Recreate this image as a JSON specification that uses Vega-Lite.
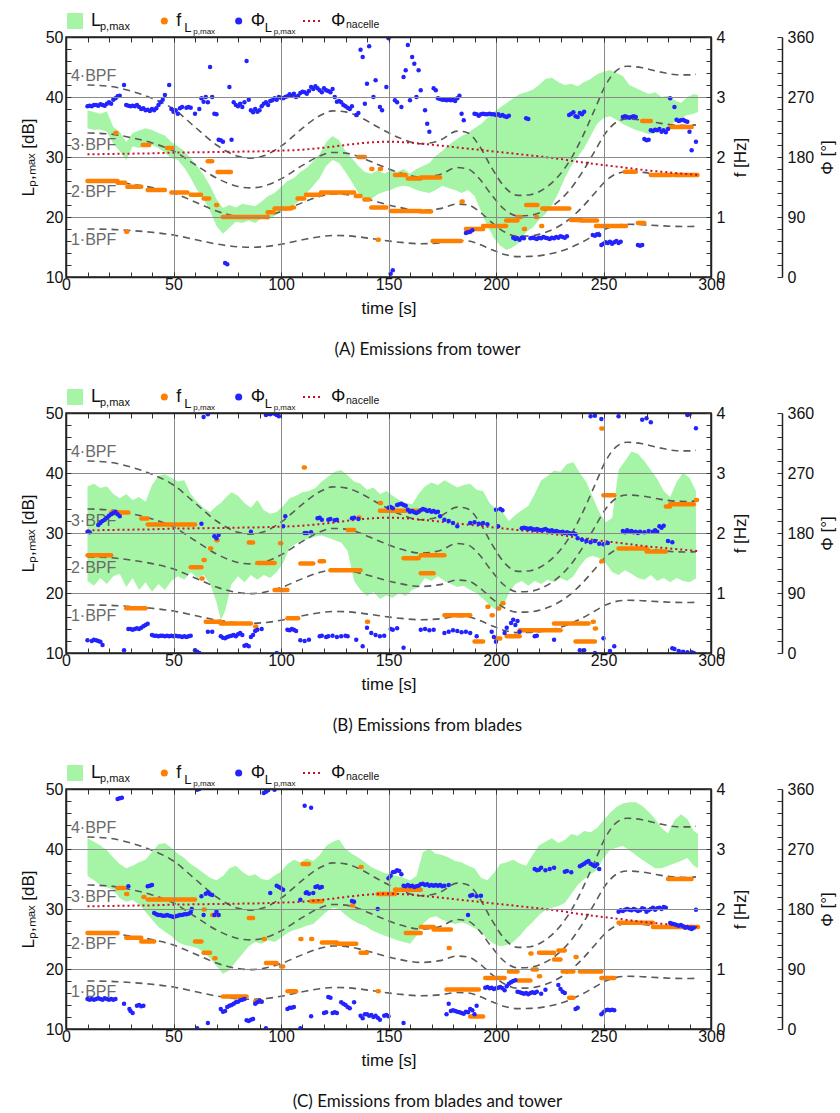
{
"$schema": "https://vega.github.io/schema/vega-lite/v6.json",
"padding": {"left": 18, "top": 11, "right": 5, "bottom": 5},
"config": {
  "font": "Liberation Sans",
  "view": {"stroke": "#222", "strokeWidth": 1.5},
  "axis": {"labelFontSize": 16, "labelColor": "#111", "titleColor": "#111", "titleFontWeight": "normal", "titleFontSize": 17, "tickColor": "#333", "domainColor": "#222", "domainWidth": 1.5, "labelFlush": false, "labelOverlap": false, "ticks": true, "tickSize": -5, "tickWidth": 1}
},
"datasets": {
  "leg": [{"key": "a"}, {"key": "b"}, {"key": "c"}, {"key": "d"}],
  "bpflab": [{"t": 2.3, "f": 0.62, "label": "1·BPF"}, {"t": 2.3, "f": 1.41, "label": "2·BPF"}, {"t": 2.3, "f": 2.2, "label": "3·BPF"}, {"t": 2.3, "f": 3.35, "label": "4·BPF"}],
  "bpf": [
    {"t":10,"b1":0.800,"b2":1.600,"b3":2.400,"b4":3.200},{"t":20,"b1":0.795,"b2":1.590,"b3":2.385,"b4":3.180},{"t":30,"b1":0.775,"b2":1.550,"b3":2.325,"b4":3.100},{"t":40,"b1":0.745,"b2":1.490,"b3":2.235,"b4":2.980},{"t":50,"b1":0.700,"b2":1.400,"b3":2.100,"b4":2.800},{"t":60,"b1":0.625,"b2":1.250,"b3":1.875,"b4":2.500},{"t":70,"b1":0.550,"b2":1.100,"b3":1.650,"b4":2.200},{"t":80,"b1":0.503,"b2":1.006,"b3":1.509,"b4":2.012},{"t":86,"b1":0.495,"b2":0.990,"b3":1.485,"b4":1.980},{"t":92,"b1":0.505,"b2":1.010,"b3":1.515,"b4":2.020},{"t":100,"b1":0.545,"b2":1.090,"b3":1.635,"b4":2.180},{"t":110,"b1":0.620,"b2":1.240,"b3":1.860,"b4":2.480},{"t":118,"b1":0.672,"b2":1.344,"b3":2.016,"b4":2.688},{"t":124,"b1":0.692,"b2":1.384,"b3":2.076,"b4":2.768},{"t":130,"b1":0.688,"b2":1.376,"b3":2.064,"b4":2.752},{"t":137,"b1":0.665,"b2":1.330,"b3":1.995,"b4":2.660},{"t":145,"b1":0.625,"b2":1.250,"b3":1.875,"b4":2.500},{"t":155,"b1":0.580,"b2":1.160,"b3":1.740,"b4":2.320},{"t":165,"b1":0.555,"b2":1.110,"b3":1.665,"b4":2.220},{"t":174,"b1":0.570,"b2":1.140,"b3":1.710,"b4":2.280},{"t":182,"b1":0.608,"b2":1.216,"b3":1.824,"b4":2.432},{"t":187,"b1":0.600,"b2":1.200,"b3":1.800,"b4":2.400},{"t":192,"b1":0.550,"b2":1.100,"b3":1.650,"b4":2.200},{"t":198,"b1":0.455,"b2":0.910,"b3":1.365,"b4":1.820},{"t":204,"b1":0.375,"b2":0.750,"b3":1.125,"b4":1.500},{"t":210,"b1":0.340,"b2":0.680,"b3":1.020,"b4":1.360},{"t":216,"b1":0.343,"b2":0.686,"b3":1.029,"b4":1.372},{"t":222,"b1":0.365,"b2":0.730,"b3":1.095,"b4":1.460},{"t":228,"b1":0.410,"b2":0.820,"b3":1.230,"b4":1.640},{"t":234,"b1":0.480,"b2":0.960,"b3":1.440,"b4":1.920},{"t":240,"b1":0.580,"b2":1.160,"b3":1.740,"b4":2.320},{"t":246,"b1":0.700,"b2":1.400,"b3":2.100,"b4":2.800},{"t":251,"b1":0.800,"b2":1.600,"b3":2.400,"b4":3.200},{"t":256,"b1":0.860,"b2":1.720,"b3":2.580,"b4":3.440},{"t":261,"b1":0.878,"b2":1.756,"b3":2.634,"b4":3.512},{"t":268,"b1":0.872,"b2":1.744,"b3":2.616,"b4":3.488},{"t":276,"b1":0.855,"b2":1.710,"b3":2.565,"b4":3.420},{"t":284,"b1":0.843,"b2":1.686,"b3":2.529,"b4":3.372},{"t":290,"b1":0.842,"b2":1.684,"b3":2.526,"b4":3.368},{"t":293,"b1":0.845,"b2":1.690,"b3":2.535,"b4":3.380}
  ],
  "nac": [{"t":10,"phi":184},{"t":20,"phi":184.5},{"t":30,"phi":185},{"t":40,"phi":185.5},{"t":50,"phi":186.5},{"t":60,"phi":187},{"t":70,"phi":187.5},{"t":80,"phi":188},{"t":90,"phi":188.5},{"t":100,"phi":189.5},{"t":110,"phi":191},{"t":120,"phi":194},{"t":130,"phi":198},{"t":140,"phi":201.5},{"t":150,"phi":203},{"t":160,"phi":201.5},{"t":170,"phi":198.5},{"t":180,"phi":195},{"t":190,"phi":191.5},{"t":200,"phi":188},{"t":210,"phi":184.5},{"t":220,"phi":181},{"t":230,"phi":177},{"t":240,"phi":172},{"t":250,"phi":168},{"t":260,"phi":164},{"t":270,"phi":160},{"t":280,"phi":157},{"t":294,"phi":153}],
  "bandA": [{"t":10,"lo":34.8,"hi":37.8},{"t":13,"lo":34.5,"hi":37.5},{"t":16,"lo":34.6,"hi":37.2},{"t":19,"lo":34.2,"hi":37.6},{"t":22,"lo":32.2,"hi":35.0},{"t":25,"lo":31.0,"hi":34.2},{"t":28,"lo":29.5,"hi":32.5},{"t":31,"lo":31.8,"hi":34.0},{"t":34,"lo":31.5,"hi":34.4},{"t":37,"lo":31.8,"hi":34.8},{"t":40,"lo":32.0,"hi":34.5},{"t":43,"lo":31.5,"hi":34.0},{"t":46,"lo":30.7,"hi":33.6},{"t":49,"lo":29.8,"hi":32.5},{"t":52,"lo":29.5,"hi":31.8},{"t":55,"lo":28.2,"hi":31.0},{"t":58,"lo":26.5,"hi":29.8},{"t":61,"lo":24.5,"hi":28.5},{"t":64,"lo":23.0,"hi":27.0},{"t":67,"lo":21.0,"hi":25.2},{"t":70,"lo":18.5,"hi":23.0},{"t":73,"lo":17.2,"hi":21.5},{"t":76,"lo":18.2,"hi":22.0},{"t":79,"lo":19.2,"hi":21.6},{"t":82,"lo":19.0,"hi":22.2},{"t":85,"lo":19.4,"hi":22.0},{"t":88,"lo":19.0,"hi":21.8},{"t":91,"lo":19.8,"hi":22.6},{"t":94,"lo":19.5,"hi":23.5},{"t":97,"lo":20.2,"hi":24.0},{"t":100,"lo":20.8,"hi":25.0},{"t":103,"lo":21.5,"hi":26.0},{"t":106,"lo":22.0,"hi":26.5},{"t":109,"lo":22.8,"hi":27.5},{"t":112,"lo":24.0,"hi":28.2},{"t":115,"lo":25.2,"hi":29.3},{"t":118,"lo":26.5,"hi":30.5},{"t":121,"lo":28.5,"hi":32.5},{"t":124,"lo":29.5,"hi":33.5},{"t":127,"lo":29.0,"hi":32.8},{"t":130,"lo":27.5,"hi":31.0},{"t":133,"lo":25.8,"hi":29.8},{"t":136,"lo":24.0,"hi":28.5},{"t":139,"lo":22.5,"hi":27.5},{"t":142,"lo":23.0,"hi":27.2},{"t":145,"lo":23.8,"hi":27.8},{"t":148,"lo":24.2,"hi":27.2},{"t":151,"lo":24.5,"hi":27.8},{"t":154,"lo":25.0,"hi":27.5},{"t":157,"lo":25.2,"hi":28.0},{"t":160,"lo":25.0,"hi":27.2},{"t":163,"lo":24.5,"hi":28.0},{"t":166,"lo":24.2,"hi":28.5},{"t":169,"lo":24.0,"hi":29.0},{"t":172,"lo":24.5,"hi":30.2},{"t":175,"lo":25.2,"hi":31.0},{"t":178,"lo":24.8,"hi":32.0},{"t":181,"lo":24.5,"hi":32.8},{"t":184,"lo":24.0,"hi":33.5},{"t":187,"lo":24.5,"hi":34.0},{"t":190,"lo":23.5,"hi":34.8},{"t":193,"lo":21.0,"hi":35.5},{"t":196,"lo":18.5,"hi":36.5},{"t":199,"lo":16.5,"hi":37.5},{"t":202,"lo":15.2,"hi":38.3},{"t":205,"lo":14.5,"hi":39.0},{"t":208,"lo":15.0,"hi":39.8},{"t":211,"lo":15.8,"hi":40.5},{"t":214,"lo":17.5,"hi":40.8},{"t":217,"lo":18.2,"hi":41.2},{"t":220,"lo":19.5,"hi":42.0},{"t":223,"lo":20.5,"hi":43.0},{"t":226,"lo":22.0,"hi":43.2},{"t":229,"lo":24.0,"hi":42.5},{"t":232,"lo":26.5,"hi":42.0},{"t":235,"lo":28.5,"hi":42.2},{"t":238,"lo":30.0,"hi":41.8},{"t":241,"lo":31.5,"hi":42.5},{"t":244,"lo":33.5,"hi":43.0},{"t":247,"lo":35.5,"hi":43.8},{"t":250,"lo":36.5,"hi":44.2},{"t":253,"lo":36.8,"hi":44.5},{"t":256,"lo":36.2,"hi":44.0},{"t":259,"lo":35.5,"hi":43.5},{"t":262,"lo":35.0,"hi":42.0},{"t":265,"lo":34.5,"hi":41.5},{"t":268,"lo":34.2,"hi":41.0},{"t":271,"lo":33.8,"hi":40.5},{"t":274,"lo":34.0,"hi":40.8},{"t":277,"lo":34.5,"hi":40.0},{"t":280,"lo":35.0,"hi":40.2},{"t":283,"lo":35.8,"hi":39.5},{"t":286,"lo":36.5,"hi":39.0},{"t":289,"lo":37.0,"hi":40.0},{"t":292,"lo":37.2,"hi":40.5},{"t":294,"lo":37.5,"hi":40.3}],
  "bandB": [{"t":10,"lo":22.0,"hi":37.8},{"t":13,"lo":21.2,"hi":38.2},{"t":16,"lo":22.5,"hi":37.5},{"t":19,"lo":21.5,"hi":37.8},{"t":22,"lo":22.8,"hi":36.5},{"t":25,"lo":23.2,"hi":35.8},{"t":28,"lo":21.0,"hi":36.5},{"t":31,"lo":22.5,"hi":35.5},{"t":34,"lo":20.5,"hi":36.0},{"t":37,"lo":21.8,"hi":35.2},{"t":40,"lo":20.2,"hi":38.0},{"t":43,"lo":21.5,"hi":39.5},{"t":46,"lo":20.5,"hi":39.8},{"t":49,"lo":22.0,"hi":39.2},{"t":52,"lo":22.8,"hi":38.6},{"t":55,"lo":22.2,"hi":38.8},{"t":58,"lo":23.5,"hi":36.5},{"t":61,"lo":22.5,"hi":35.2},{"t":64,"lo":23.0,"hi":34.2},{"t":67,"lo":21.5,"hi":33.5},{"t":70,"lo":18.5,"hi":34.5},{"t":72,"lo":15.5,"hi":35.0},{"t":74,"lo":17.0,"hi":35.8},{"t":77,"lo":21.5,"hi":36.8},{"t":80,"lo":22.8,"hi":36.2},{"t":83,"lo":21.8,"hi":35.0},{"t":86,"lo":23.0,"hi":34.2},{"t":89,"lo":22.2,"hi":35.5},{"t":92,"lo":23.0,"hi":33.8},{"t":95,"lo":22.5,"hi":33.2},{"t":98,"lo":23.5,"hi":33.5},{"t":101,"lo":25.0,"hi":34.5},{"t":104,"lo":27.5,"hi":35.8},{"t":107,"lo":28.2,"hi":36.2},{"t":110,"lo":28.8,"hi":36.8},{"t":113,"lo":29.0,"hi":37.0},{"t":116,"lo":29.4,"hi":37.5},{"t":119,"lo":29.6,"hi":38.6},{"t":122,"lo":29.2,"hi":39.4},{"t":125,"lo":28.8,"hi":40.2},{"t":128,"lo":28.4,"hi":40.5},{"t":131,"lo":27.0,"hi":39.6},{"t":134,"lo":22.0,"hi":38.6},{"t":137,"lo":20.5,"hi":38.2},{"t":140,"lo":19.5,"hi":37.2},{"t":143,"lo":20.2,"hi":37.6},{"t":146,"lo":19.0,"hi":36.5},{"t":149,"lo":19.6,"hi":37.0},{"t":152,"lo":19.2,"hi":36.2},{"t":155,"lo":20.0,"hi":35.5},{"t":158,"lo":19.5,"hi":35.0},{"t":161,"lo":20.5,"hi":34.8},{"t":164,"lo":21.0,"hi":36.5},{"t":167,"lo":22.5,"hi":37.8},{"t":170,"lo":22.0,"hi":38.4},{"t":173,"lo":22.8,"hi":38.0},{"t":176,"lo":22.0,"hi":38.8},{"t":179,"lo":21.5,"hi":38.2},{"t":182,"lo":21.0,"hi":37.6},{"t":185,"lo":21.2,"hi":38.0},{"t":188,"lo":20.5,"hi":38.2},{"t":191,"lo":20.0,"hi":37.2},{"t":194,"lo":19.0,"hi":37.0},{"t":197,"lo":18.0,"hi":35.0},{"t":200,"lo":17.2,"hi":34.0},{"t":203,"lo":17.5,"hi":33.5},{"t":206,"lo":20.0,"hi":32.0},{"t":209,"lo":21.5,"hi":33.0},{"t":212,"lo":22.0,"hi":33.8},{"t":215,"lo":21.2,"hi":34.5},{"t":218,"lo":22.0,"hi":36.5},{"t":221,"lo":21.5,"hi":38.8},{"t":224,"lo":22.2,"hi":39.5},{"t":227,"lo":21.8,"hi":40.4},{"t":230,"lo":22.5,"hi":40.2},{"t":233,"lo":22.0,"hi":41.5},{"t":236,"lo":22.8,"hi":41.8},{"t":239,"lo":24.5,"hi":40.0},{"t":242,"lo":25.8,"hi":38.5},{"t":245,"lo":26.2,"hi":36.0},{"t":248,"lo":25.8,"hi":33.5},{"t":251,"lo":25.0,"hi":31.8},{"t":254,"lo":23.5,"hi":32.5},{"t":257,"lo":23.0,"hi":40.5},{"t":260,"lo":23.8,"hi":42.0},{"t":263,"lo":23.2,"hi":43.6},{"t":266,"lo":22.5,"hi":43.2},{"t":269,"lo":22.2,"hi":42.0},{"t":272,"lo":23.0,"hi":40.5},{"t":275,"lo":22.0,"hi":39.0},{"t":278,"lo":22.5,"hi":37.0},{"t":281,"lo":21.8,"hi":36.0},{"t":284,"lo":22.5,"hi":38.5},{"t":287,"lo":22.0,"hi":40.0},{"t":290,"lo":21.8,"hi":39.2},{"t":293,"lo":22.4,"hi":37.0}],
  "bandC": [{"t":10,"lo":35.5,"hi":41.8},{"t":13,"lo":34.8,"hi":41.2},{"t":16,"lo":34.0,"hi":40.6},{"t":19,"lo":33.6,"hi":39.8},{"t":22,"lo":33.2,"hi":38.6},{"t":25,"lo":31.8,"hi":37.5},{"t":28,"lo":31.2,"hi":36.8},{"t":31,"lo":31.5,"hi":37.2},{"t":34,"lo":30.8,"hi":37.8},{"t":37,"lo":29.5,"hi":38.2},{"t":40,"lo":28.2,"hi":39.5},{"t":43,"lo":27.0,"hi":40.8},{"t":46,"lo":26.2,"hi":41.0},{"t":49,"lo":25.5,"hi":40.2},{"t":52,"lo":24.5,"hi":39.2},{"t":55,"lo":24.0,"hi":38.5},{"t":58,"lo":23.8,"hi":37.5},{"t":61,"lo":23.5,"hi":36.8},{"t":64,"lo":22.8,"hi":36.0},{"t":67,"lo":21.8,"hi":35.2},{"t":70,"lo":20.5,"hi":34.8},{"t":73,"lo":19.2,"hi":35.5},{"t":76,"lo":19.8,"hi":36.8},{"t":79,"lo":21.2,"hi":37.2},{"t":82,"lo":22.5,"hi":36.2},{"t":85,"lo":23.8,"hi":35.5},{"t":88,"lo":24.5,"hi":35.8},{"t":91,"lo":24.2,"hi":35.0},{"t":94,"lo":24.8,"hi":34.8},{"t":97,"lo":24.5,"hi":35.6},{"t":100,"lo":25.2,"hi":36.2},{"t":103,"lo":26.0,"hi":37.5},{"t":106,"lo":26.5,"hi":38.2},{"t":109,"lo":26.8,"hi":37.8},{"t":112,"lo":27.2,"hi":38.4},{"t":115,"lo":27.5,"hi":38.0},{"t":118,"lo":28.5,"hi":39.0},{"t":121,"lo":29.5,"hi":40.5},{"t":124,"lo":30.2,"hi":41.2},{"t":127,"lo":30.0,"hi":41.6},{"t":130,"lo":29.0,"hi":40.0},{"t":133,"lo":28.2,"hi":39.2},{"t":136,"lo":27.6,"hi":38.6},{"t":139,"lo":27.2,"hi":37.8},{"t":142,"lo":26.5,"hi":37.0},{"t":145,"lo":26.0,"hi":36.5},{"t":148,"lo":25.6,"hi":36.0},{"t":151,"lo":25.2,"hi":35.8},{"t":154,"lo":24.8,"hi":35.5},{"t":157,"lo":24.5,"hi":35.2},{"t":160,"lo":24.2,"hi":34.8},{"t":163,"lo":25.5,"hi":35.5},{"t":166,"lo":27.5,"hi":39.5},{"t":169,"lo":28.5,"hi":40.0},{"t":172,"lo":28.8,"hi":39.2},{"t":175,"lo":28.2,"hi":39.0},{"t":178,"lo":27.8,"hi":38.6},{"t":181,"lo":27.5,"hi":38.0},{"t":184,"lo":27.8,"hi":37.8},{"t":187,"lo":27.4,"hi":37.2},{"t":190,"lo":26.8,"hi":36.8},{"t":193,"lo":26.2,"hi":35.2},{"t":196,"lo":25.0,"hi":34.8},{"t":199,"lo":24.2,"hi":36.0},{"t":202,"lo":23.8,"hi":37.5},{"t":205,"lo":24.0,"hi":37.8},{"t":208,"lo":24.5,"hi":38.2},{"t":211,"lo":25.5,"hi":37.6},{"t":214,"lo":26.8,"hi":37.2},{"t":217,"lo":27.8,"hi":39.0},{"t":220,"lo":29.0,"hi":40.6},{"t":223,"lo":29.8,"hi":41.2},{"t":226,"lo":30.2,"hi":41.8},{"t":229,"lo":30.5,"hi":41.0},{"t":232,"lo":31.0,"hi":41.5},{"t":235,"lo":32.5,"hi":42.5},{"t":238,"lo":34.0,"hi":42.2},{"t":241,"lo":35.0,"hi":43.0},{"t":244,"lo":35.8,"hi":42.8},{"t":247,"lo":36.5,"hi":43.5},{"t":250,"lo":38.5,"hi":44.8},{"t":253,"lo":39.8,"hi":46.0},{"t":256,"lo":40.2,"hi":47.0},{"t":259,"lo":40.5,"hi":47.6},{"t":262,"lo":39.8,"hi":47.8},{"t":265,"lo":39.0,"hi":47.8},{"t":268,"lo":38.2,"hi":47.2},{"t":271,"lo":37.5,"hi":46.2},{"t":274,"lo":36.8,"hi":45.0},{"t":277,"lo":36.8,"hi":43.5},{"t":280,"lo":37.2,"hi":42.6},{"t":283,"lo":37.6,"hi":44.8},{"t":286,"lo":38.0,"hi":45.8},{"t":289,"lo":38.5,"hi":45.0},{"t":292,"lo":37.2,"hi":43.0},{"t":294,"lo":36.8,"hi":42.5}],
  "orA": [{"t0":10,"t1":24,"f":1.60},{"t0":24,"t1":27.5,"f":1.57},{"t0":28.5,"t1":35,"f":1.505},{"t0":38,"t1":46,"f":1.45},{"t0":49,"t1":56.5,"f":1.41},{"t0":58,"t1":62.8,"f":1.37},{"t0":64,"t1":66.6,"f":1.31},{"t0":69.8,"t1":70.3,"f":1.2},{"t0":73,"t1":93.8,"f":1.0},{"t0":93.8,"t1":96.5,"f":1.08},{"t0":97,"t1":104.6,"f":1.14},{"t0":105,"t1":106,"f":1.16},{"t0":107.7,"t1":110.8,"f":1.31},{"t0":111.6,"t1":118.6,"f":1.37},{"t0":118.6,"t1":134,"f":1.41},{"t0":134.8,"t1":137,"f":1.35},{"t0":138.8,"t1":141,"f":1.29},{"t0":142,"t1":149,"f":1.16},{"t0":151,"t1":165,"f":1.1},{"t0":65.9,"t1":68,"f":1.93},{"t0":70.5,"t1":76.7,"f":1.75},{"t0":136,"t1":139,"f":2.0},{"t0":142,"t1":142.5,"f":1.8},{"t0":146,"t1":146.5,"f":1.8},{"t0":153,"t1":158,"f":1.7},{"t0":159,"t1":165,"f":1.64},{"t0":165,"t1":174,"f":1.66},{"t0":23,"t1":23.5,"f":2.4},{"t0":35.7,"t1":38.7,"f":2.2},{"t0":47,"t1":49.6,"f":2.15},{"t0":28,"t1":28.5,"f":0.755},{"t0":145,"t1":145.5,"f":0.62},{"t0":165,"t1":169.8,"f":1.09},{"t0":170.5,"t1":183.7,"f":0.6},{"t0":184,"t1":184.5,"f":1.26},{"t0":186,"t1":194,"f":0.8},{"t0":194,"t1":204.7,"f":0.85},{"t0":204.7,"t1":210,"f":0.94},{"t0":210,"t1":211.6,"f":1.0},{"t0":213,"t1":213.5,"f":0.8},{"t0":214,"t1":219.3,"f":1.2},{"t0":218.6,"t1":219.1,"f":1.0},{"t0":221,"t1":221.5,"f":0.85},{"t0":221.5,"t1":234.1,"f":1.14},{"t0":234.9,"t1":239.5,"f":0.95},{"t0":239.5,"t1":247,"f":0.94},{"t0":246.5,"t1":260.5,"f":0.85},{"t0":266,"t1":269,"f":0.9},{"t0":259.9,"t1":265,"f":1.755},{"t0":272,"t1":281.4,"f":1.7},{"t0":283,"t1":293.7,"f":1.7},{"t0":268,"t1":272,"f":2.6},{"t0":281,"t1":291,"f":2.5}],
  "orB": [{"t0":10,"t1":21,"f":1.63},{"t0":21,"t1":29,"f":2.34},{"t0":35,"t1":38,"f":2.24},{"t0":38,"t1":60,"f":2.14},{"t0":58,"t1":63,"f":1.43},{"t0":64,"t1":64.5,"f":1.55},{"t0":67,"t1":67.5,"f":1.74},{"t0":70,"t1":70.5,"f":1.88},{"t0":85,"t1":87,"f":1.84},{"t0":89,"t1":97,"f":1.5},{"t0":99.6,"t1":100.1,"f":1.83},{"t0":110.6,"t1":111.1,"f":3.09},{"t0":109,"t1":115,"f":1.49},{"t0":118,"t1":120,"f":1.53},{"t0":123,"t1":137,"f":1.38},{"t0":131,"t1":134,"f":2.05},{"t0":136,"t1":136.5,"f":2.26},{"t0":146,"t1":164,"f":2.37},{"t0":146,"t1":146.5,"f":2.5},{"t0":157,"t1":164,"f":1.58},{"t0":28,"t1":37,"f":0.745},{"t0":63,"t1":63.5,"f":1.24},{"t0":65,"t1":72,"f":0.52},{"t0":72,"t1":86,"f":0.49},{"t0":88,"t1":88.5,"f":0.44},{"t0":97,"t1":103,"f":1.05},{"t0":103,"t1":108,"f":0.58},{"t0":140,"t1":140.5,"f":0.52},{"t0":165,"t1":176,"f":1.63},{"t0":165,"t1":171,"f":1.33},{"t0":176,"t1":188,"f":0.63},{"t0":190,"t1":194,"f":0.19},{"t0":196,"t1":196.5,"f":0.77},{"t0":198,"t1":198.5,"f":0.63},{"t0":200,"t1":202,"f":0.24},{"t0":201,"t1":201.5,"f":0.74},{"t0":203,"t1":203.5,"f":0.83},{"t0":205,"t1":211,"f":0.28},{"t0":211,"t1":230,"f":0.38},{"t0":227,"t1":243,"f":0.49},{"t0":237,"t1":246,"f":0.19},{"t0":245,"t1":245.5,"f":0.52},{"t0":246,"t1":246.5,"f":0.41},{"t0":249,"t1":249.5,"f":1.53},{"t0":249,"t1":249.5,"f":3.74},{"t0":250,"t1":255,"f":2.63},{"t0":257,"t1":270,"f":1.74},{"t0":270,"t1":279,"f":1.69},{"t0":279,"t1":281,"f":2.44},{"t0":281,"t1":292,"f":2.48},{"t0":293,"t1":293.5,"f":2.55}],
  "orC": [{"t0":10,"t1":24,"f":1.6},{"t0":24,"t1":27,"f":2.35},{"t0":28,"t1":28.5,"f":2.25},{"t0":36,"t1":36.5,"f":2.2},{"t0":38,"t1":60,"f":2.16},{"t0":28,"t1":35,"f":1.52},{"t0":35,"t1":41,"f":1.46},{"t0":60,"t1":63,"f":1.46},{"t0":64,"t1":64.5,"f":1.99},{"t0":68,"t1":71,"f":1.9},{"t0":85,"t1":87,"f":1.85},{"t0":92,"t1":92.5,"f":1.5},{"t0":109,"t1":109.5,"f":1.5},{"t0":114,"t1":114.5,"f":1.5},{"t0":110,"t1":113,"f":2.75},{"t0":114,"t1":119,"f":2.13},{"t0":119,"t1":126,"f":1.44},{"t0":126,"t1":135,"f":1.42},{"t0":133,"t1":133.5,"f":2.06},{"t0":137,"t1":137.5,"f":2.7},{"t0":145,"t1":153,"f":2.25},{"t0":153,"t1":165,"f":2.32},{"t0":158,"t1":165,"f":1.6},{"t0":64,"t1":67,"f":1.27},{"t0":69,"t1":69.5,"f":1.18},{"t0":73,"t1":84,"f":0.54},{"t0":88,"t1":91,"f":0.46},{"t0":93,"t1":98,"f":1.1},{"t0":100,"t1":101,"f":1.04},{"t0":103,"t1":107,"f":0.63},{"t0":145,"t1":145.5,"f":0.63},{"t0":137,"t1":140,"f":1.27},{"t0":165,"t1":171,"f":1.7},{"t0":171,"t1":179,"f":1.66},{"t0":178,"t1":178.5,"f":1.35},{"t0":280,"t1":291,"f":2.5},{"t0":257,"t1":273,"f":1.77},{"t0":273,"t1":294,"f":1.7},{"t0":177,"t1":192,"f":0.66},{"t0":188,"t1":194,"f":0.21},{"t0":195,"t1":204,"f":0.85},{"t0":206,"t1":210,"f":0.96},{"t0":210,"t1":216,"f":0.81},{"t0":217,"t1":219,"f":0.99},{"t0":216,"t1":216.5,"f":1.26},{"t0":220,"t1":220.5,"f":0.88},{"t0":220,"t1":227,"f":1.27},{"t0":227,"t1":230,"f":1.16},{"t0":229,"t1":232,"f":1.31},{"t0":231,"t1":236,"f":0.96},{"t0":234,"t1":236,"f":0.52},{"t0":237,"t1":237.5,"f":1.2},{"t0":239,"t1":249,"f":0.96},{"t0":249,"t1":255,"f":0.85}],
  "blA": [{"t":10,"phi":256},{"t":11,"phi":257},{"t":12,"phi":256},{"t":13,"phi":258},{"t":14,"phi":258},{"t":15,"phi":257},{"t":16,"phi":259},{"t":17,"phi":258},{"t":18,"phi":257},{"t":19,"phi":260},{"t":20,"phi":262},{"t":21,"phi":260},{"t":22,"phi":266},{"t":23,"phi":268},{"t":24,"phi":271},{"t":25,"phi":272},{"t":27,"phi":288},{"t":28,"phi":258},{"t":29,"phi":257},{"t":30,"phi":256},{"t":31,"phi":257},{"t":32,"phi":256},{"t":33,"phi":258},{"t":34,"phi":255},{"t":35,"phi":252},{"t":36,"phi":253},{"t":37,"phi":250},{"t":38,"phi":251},{"t":39,"phi":249},{"t":40,"phi":252},{"t":41,"phi":250},{"t":42,"phi":253},{"t":43,"phi":258},{"t":44,"phi":262},{"t":45,"phi":266},{"t":46,"phi":273},{"t":48,"phi":288},{"t":49,"phi":252},{"t":50,"phi":248},{"t":51,"phi":250},{"t":52,"phi":245},{"t":53,"phi":253},{"t":54,"phi":255},{"t":56,"phi":254},{"t":57,"phi":255},{"t":58,"phi":254},{"t":60,"phi":245},{"t":62,"phi":252},{"t":63,"phi":268},{"t":64,"phi":263},{"t":65,"phi":270},{"t":66,"phi":262},{"t":67,"phi":315},{"t":68,"phi":270},{"t":69,"phi":245},{"t":70,"phi":244},{"t":71,"phi":206},{"t":72,"phi":205},{"t":73,"phi":203},{"t":74,"phi":21},{"t":75,"phi":19},{"t":76,"phi":285},{"t":77,"phi":206},{"t":78,"phi":262},{"t":79,"phi":258},{"t":80,"phi":256},{"t":81,"phi":260},{"t":82,"phi":255},{"t":83,"phi":262},{"t":84,"phi":324},{"t":85,"phi":266},{"t":86,"phi":250},{"t":87,"phi":247},{"t":88,"phi":252},{"t":89,"phi":248},{"t":90,"phi":250},{"t":91,"phi":256},{"t":92,"phi":260},{"t":93,"phi":262},{"t":94,"phi":258},{"t":95,"phi":264},{"t":96,"phi":265},{"t":97,"phi":268},{"t":98,"phi":266},{"t":99,"phi":270},{"t":100,"phi":269},{"t":101,"phi":268},{"t":102,"phi":270},{"t":103,"phi":271},{"t":104,"phi":274},{"t":105,"phi":272},{"t":106,"phi":275},{"t":107,"phi":270},{"t":108,"phi":272},{"t":109,"phi":276},{"t":110,"phi":278},{"t":111,"phi":277},{"t":112,"phi":275},{"t":113,"phi":279},{"t":114,"phi":285},{"t":115,"phi":282},{"t":116,"phi":286},{"t":117,"phi":283},{"t":118,"phi":280},{"t":119,"phi":277},{"t":120,"phi":283},{"t":121,"phi":280},{"t":122,"phi":279},{"t":123,"phi":277},{"t":124,"phi":282},{"t":125,"phi":270},{"t":126,"phi":263},{"t":127,"phi":264},{"t":128,"phi":262},{"t":129,"phi":258},{"t":130,"phi":256},{"t":131,"phi":254},{"t":132,"phi":252},{"t":133,"phi":256},{"t":135,"phi":243},{"t":136,"phi":246},{"t":137,"phi":341},{"t":138,"phi":330},{"t":139,"phi":260},{"t":140,"phi":290},{"t":141,"phi":346},{"t":143,"phi":270},{"t":144,"phi":295},{"t":146,"phi":255},{"t":147,"phi":250},{"t":149,"phi":285},{"t":150,"phi":358},{"t":151,"phi":5},{"t":152,"phi":10},{"t":153,"phi":265},{"t":154,"phi":262},{"t":156,"phi":255},{"t":157,"phi":300},{"t":158,"phi":310},{"t":159,"phi":348},{"t":160,"phi":265},{"t":161,"phi":330},{"t":162,"phi":320},{"t":163,"phi":270},{"t":164,"phi":310},{"t":165,"phi":280},{"t":167,"phi":250},{"t":168,"phi":230},{"t":169,"phi":218},{"t":171,"phi":283},{"t":172,"phi":280},{"t":173,"phi":268},{"t":174,"phi":267},{"t":175,"phi":266},{"t":176,"phi":266},{"t":177,"phi":265},{"t":178,"phi":266},{"t":179,"phi":265},{"t":180,"phi":266},{"t":181,"phi":264},{"t":182,"phi":268},{"t":183,"phi":272},{"t":184,"phi":245},{"t":185,"phi":235},{"t":186,"phi":66},{"t":187,"phi":67},{"t":188,"phi":68},{"t":189,"phi":70},{"t":190,"phi":245},{"t":191,"phi":244},{"t":192,"phi":242},{"t":193,"phi":244},{"t":194,"phi":245},{"t":195,"phi":244},{"t":196,"phi":244},{"t":197,"phi":245},{"t":198,"phi":244},{"t":199,"phi":244},{"t":200,"phi":243},{"t":201,"phi":244},{"t":202,"phi":242},{"t":203,"phi":243},{"t":204,"phi":241},{"t":205,"phi":240},{"t":206,"phi":242},{"t":208,"phi":59},{"t":209,"phi":57},{"t":210,"phi":58},{"t":211,"phi":56},{"t":212,"phi":59},{"t":213,"phi":58},{"t":214,"phi":238},{"t":215,"phi":237},{"t":216,"phi":58},{"t":217,"phi":59},{"t":218,"phi":58},{"t":219,"phi":57},{"t":220,"phi":59},{"t":221,"phi":58},{"t":222,"phi":60},{"t":223,"phi":59},{"t":224,"phi":58},{"t":225,"phi":57},{"t":226,"phi":59},{"t":227,"phi":58},{"t":228,"phi":60},{"t":229,"phi":59},{"t":230,"phi":61},{"t":231,"phi":60},{"t":232,"phi":59},{"t":233,"phi":61},{"t":234,"phi":243},{"t":235,"phi":245},{"t":236,"phi":247},{"t":237,"phi":241},{"t":238,"phi":240},{"t":239,"phi":246},{"t":240,"phi":244},{"t":241,"phi":248},{"t":245,"phi":63},{"t":246,"phi":62},{"t":247,"phi":64},{"t":248,"phi":63},{"t":249,"phi":48},{"t":250,"phi":50},{"t":251,"phi":52},{"t":252,"phi":51},{"t":253,"phi":53},{"t":254,"phi":50},{"t":255,"phi":52},{"t":256,"phi":54},{"t":257,"phi":51},{"t":258,"phi":53},{"t":259,"phi":240},{"t":260,"phi":241},{"t":261,"phi":240},{"t":262,"phi":239},{"t":263,"phi":240},{"t":264,"phi":241},{"t":265,"phi":240},{"t":266,"phi":48},{"t":267,"phi":47},{"t":268,"phi":48},{"t":269,"phi":207},{"t":270,"phi":205},{"t":271,"phi":206},{"t":272,"phi":220},{"t":273,"phi":219},{"t":274,"phi":221},{"t":275,"phi":220},{"t":276,"phi":222},{"t":277,"phi":218},{"t":278,"phi":220},{"t":279,"phi":217},{"t":280,"phi":222},{"t":281,"phi":268},{"t":283,"phi":255},{"t":284,"phi":236},{"t":285,"phi":234},{"t":286,"phi":235},{"t":287,"phi":236},{"t":288,"phi":234},{"t":289,"phi":233},{"t":290,"phi":218},{"t":291,"phi":190},{"t":293,"phi":203}],
  "blB": [{"t":10,"phi":182},{"t":11,"phi":181},{"t":15,"phi":192},{"t":16,"phi":195},{"t":17,"phi":198},{"t":18,"phi":200},{"t":19,"phi":203},{"t":20,"phi":206},{"t":21,"phi":208},{"t":22,"phi":210},{"t":23,"phi":212},{"t":24,"phi":208},{"t":25,"phi":205},{"t":63,"phi":194},{"t":64,"phi":354},{"t":66,"phi":358},{"t":69,"phi":175},{"t":70,"phi":172},{"t":71,"phi":177},{"t":86,"phi":182},{"t":93,"phi":357},{"t":94,"phi":359},{"t":95,"phi":358},{"t":96,"phi":360},{"t":97,"phi":359},{"t":98,"phi":357},{"t":99,"phi":355},{"t":101,"phi":190},{"t":102,"phi":205},{"t":111,"phi":180},{"t":112,"phi":180},{"t":114,"phi":181},{"t":117,"phi":202},{"t":118,"phi":203},{"t":119,"phi":200},{"t":122,"phi":200},{"t":123,"phi":201},{"t":125,"phi":199},{"t":126,"phi":200},{"t":133,"phi":202},{"t":134,"phi":203},{"t":136,"phi":201},{"t":150,"phi":218},{"t":151,"phi":219},{"t":152,"phi":217},{"t":154,"phi":222},{"t":155,"phi":223},{"t":156,"phi":224},{"t":157,"phi":222},{"t":158,"phi":221},{"t":159,"phi":215},{"t":160,"phi":212},{"t":161,"phi":213},{"t":162,"phi":211},{"t":163,"phi":210},{"t":164,"phi":212},{"t":165,"phi":214},{"t":166,"phi":216},{"t":167,"phi":215},{"t":168,"phi":213},{"t":169,"phi":214},{"t":170,"phi":212},{"t":171,"phi":213},{"t":172,"phi":211},{"t":173,"phi":212},{"t":174,"phi":205},{"t":176,"phi":200},{"t":178,"phi":198},{"t":180,"phi":195},{"t":182,"phi":190},{"t":188,"phi":195},{"t":190,"phi":196},{"t":192,"phi":194},{"t":194,"phi":195},{"t":196,"phi":193},{"t":200,"phi":215},{"t":201,"phi":190},{"t":202,"phi":216},{"t":203,"phi":214},{"t":212,"phi":187},{"t":213,"phi":188},{"t":214,"phi":187},{"t":215,"phi":186},{"t":216,"phi":187},{"t":217,"phi":186},{"t":218,"phi":185},{"t":219,"phi":186},{"t":220,"phi":185},{"t":221,"phi":184},{"t":222,"phi":185},{"t":223,"phi":186},{"t":224,"phi":184},{"t":225,"phi":183},{"t":226,"phi":184},{"t":227,"phi":182},{"t":228,"phi":183},{"t":229,"phi":182},{"t":230,"phi":181},{"t":231,"phi":182},{"t":232,"phi":180},{"t":233,"phi":181},{"t":234,"phi":180},{"t":235,"phi":179},{"t":236,"phi":180},{"t":237,"phi":178},{"t":238,"phi":172},{"t":240,"phi":170},{"t":242,"phi":168},{"t":244,"phi":166},{"t":246,"phi":168},{"t":248,"phi":164},{"t":250,"phi":163},{"t":252,"phi":165},{"t":244,"phi":355},{"t":246,"phi":356},{"t":249,"phi":351},{"t":257,"phi":355},{"t":259,"phi":183},{"t":260,"phi":181},{"t":261,"phi":184},{"t":262,"phi":182},{"t":263,"phi":183},{"t":264,"phi":181},{"t":265,"phi":182},{"t":266,"phi":180},{"t":267,"phi":182},{"t":268,"phi":350},{"t":270,"phi":352},{"t":272,"phi":346},{"t":269,"phi":181},{"t":271,"phi":183},{"t":273,"phi":182},{"t":274,"phi":184},{"t":275,"phi":182},{"t":276,"phi":190},{"t":277,"phi":188},{"t":278,"phi":191},{"t":280,"phi":168},{"t":282,"phi":166},{"t":289,"phi":357},{"t":290,"phi":358},{"t":293,"phi":337},{"t":10,"phi":19},{"t":12,"phi":18},{"t":13,"phi":20},{"t":14,"phi":19},{"t":15,"phi":18},{"t":16,"phi":17},{"t":17,"phi":12},{"t":27,"phi":4},{"t":29,"phi":36},{"t":30,"phi":36},{"t":31,"phi":35},{"t":32,"phi":36},{"t":33,"phi":37},{"t":34,"phi":36},{"t":35,"phi":38},{"t":36,"phi":40},{"t":37,"phi":42},{"t":38,"phi":44},{"t":40,"phi":27},{"t":41,"phi":26},{"t":42,"phi":26},{"t":43,"phi":25},{"t":44,"phi":26},{"t":45,"phi":26},{"t":46,"phi":25},{"t":47,"phi":26},{"t":48,"phi":25},{"t":49,"phi":26},{"t":50,"phi":25},{"t":51,"phi":26},{"t":52,"phi":25},{"t":53,"phi":25},{"t":54,"phi":24},{"t":55,"phi":25},{"t":56,"phi":24},{"t":57,"phi":25},{"t":58,"phi":26},{"t":60,"phi":4},{"t":61,"phi":2},{"t":62,"phi":0},{"t":66,"phi":32},{"t":68,"phi":32},{"t":72,"phi":25},{"t":73,"phi":23},{"t":74,"phi":22},{"t":75,"phi":24},{"t":76,"phi":25},{"t":77,"phi":26},{"t":78,"phi":27},{"t":79,"phi":25},{"t":80,"phi":28},{"t":81,"phi":30},{"t":82,"phi":27},{"t":83,"phi":11},{"t":84,"phi":12},{"t":85,"phi":10},{"t":86,"phi":24},{"t":87,"phi":27},{"t":88,"phi":33},{"t":89,"phi":35},{"t":91,"phi":36},{"t":98,"phi":0},{"t":103,"phi":35},{"t":104,"phi":34},{"t":105,"phi":36},{"t":106,"phi":35},{"t":107,"phi":33},{"t":109,"phi":19},{"t":111,"phi":18},{"t":113,"phi":20},{"t":118,"phi":25},{"t":119,"phi":26},{"t":121,"phi":24},{"t":122,"phi":25},{"t":124,"phi":26},{"t":126,"phi":24},{"t":128,"phi":25},{"t":130,"phi":26},{"t":131,"phi":25},{"t":135,"phi":20},{"t":138,"phi":10},{"t":140,"phi":38},{"t":142,"phi":30},{"t":144,"phi":27},{"t":146,"phi":25},{"t":148,"phi":26},{"t":151,"phi":36},{"t":152,"phi":35},{"t":154,"phi":37},{"t":157,"phi":8},{"t":165,"phi":35},{"t":167,"phi":36},{"t":169,"phi":34},{"t":171,"phi":35},{"t":176,"phi":30},{"t":178,"phi":32},{"t":180,"phi":34},{"t":182,"phi":33},{"t":184,"phi":31},{"t":186,"phi":32},{"t":188,"phi":30},{"t":191,"phi":25},{"t":198,"phi":32},{"t":199,"phi":24},{"t":200,"phi":17},{"t":204,"phi":30},{"t":205,"phi":38},{"t":207,"phi":45},{"t":208,"phi":50},{"t":209,"phi":42},{"t":210,"phi":48},{"t":211,"phi":32},{"t":218,"phi":25},{"t":219,"phi":26},{"t":227,"phi":20},{"t":239,"phi":4},{"t":241,"phi":4},{"t":246,"phi":0},{"t":250,"phi":22},{"t":253,"phi":3},{"t":255,"phi":10},{"t":282,"phi":7},{"t":283,"phi":6},{"t":285,"phi":3},{"t":287,"phi":2},{"t":289,"phi":1},{"t":291,"phi":1},{"t":292,"phi":0}],
  "blC": [{"t":24,"phi":345},{"t":25,"phi":346},{"t":26,"phi":347},{"t":29,"phi":214},{"t":38,"phi":214},{"t":39,"phi":215},{"t":40,"phi":216},{"t":41,"phi":174},{"t":42,"phi":172},{"t":43,"phi":171},{"t":44,"phi":171},{"t":45,"phi":170},{"t":46,"phi":170},{"t":47,"phi":171},{"t":48,"phi":170},{"t":49,"phi":169},{"t":50,"phi":168},{"t":51,"phi":169},{"t":52,"phi":170},{"t":53,"phi":171},{"t":54,"phi":171},{"t":55,"phi":172},{"t":56,"phi":172},{"t":57,"phi":173},{"t":58,"phi":175},{"t":58.5,"phi":180},{"t":61,"phi":359},{"t":62,"phi":360},{"t":63,"phi":199},{"t":64,"phi":171},{"t":65,"phi":203},{"t":66,"phi":205},{"t":67,"phi":202},{"t":68,"phi":201},{"t":69,"phi":171},{"t":70,"phi":176},{"t":71,"phi":171},{"t":92,"phi":354},{"t":93,"phi":356},{"t":94,"phi":358},{"t":95,"phi":204},{"t":97,"phi":359},{"t":98,"phi":215},{"t":99,"phi":213},{"t":100,"phi":211},{"t":101,"phi":209},{"t":109,"phi":194},{"t":111,"phi":335},{"t":114,"phi":332},{"t":111.5,"phi":204},{"t":112,"phi":205},{"t":113,"phi":203},{"t":115,"phi":204},{"t":116,"phi":213},{"t":117,"phi":214},{"t":118,"phi":212},{"t":119,"phi":213},{"t":133,"phi":192},{"t":134,"phi":191},{"t":145,"phi":180},{"t":150,"phi":226},{"t":151,"phi":230},{"t":152,"phi":235},{"t":153,"phi":236},{"t":154,"phi":238},{"t":155,"phi":237},{"t":156,"phi":232},{"t":157,"phi":215},{"t":158,"phi":214},{"t":159,"phi":216},{"t":160,"phi":214},{"t":161,"phi":215},{"t":162,"phi":213},{"t":163,"phi":214},{"t":164,"phi":215},{"t":165,"phi":217},{"t":166,"phi":218},{"t":167,"phi":216},{"t":168,"phi":217},{"t":169,"phi":215},{"t":170,"phi":216},{"t":171,"phi":215},{"t":172,"phi":216},{"t":173,"phi":215},{"t":174,"phi":216},{"t":175,"phi":214},{"t":176,"phi":215},{"t":178,"phi":216},{"t":187,"phi":171},{"t":188,"phi":200},{"t":189,"phi":201},{"t":191,"phi":199},{"t":193,"phi":200},{"t":218,"phi":240},{"t":219,"phi":238},{"t":220,"phi":239},{"t":221,"phi":242},{"t":223,"phi":238},{"t":225,"phi":240},{"t":227,"phi":242},{"t":232,"phi":236},{"t":233,"phi":237},{"t":235,"phi":235},{"t":239,"phi":244},{"t":240,"phi":246},{"t":241,"phi":248},{"t":242,"phi":250},{"t":243,"phi":252},{"t":244,"phi":248},{"t":245,"phi":246},{"t":246,"phi":244},{"t":247,"phi":247},{"t":248,"phi":240},{"t":257,"phi":176},{"t":258,"phi":178},{"t":259,"phi":177},{"t":260,"phi":179},{"t":261,"phi":180},{"t":262,"phi":179},{"t":263,"phi":178},{"t":264,"phi":180},{"t":265,"phi":179},{"t":266,"phi":177},{"t":267,"phi":178},{"t":268,"phi":181},{"t":269,"phi":180},{"t":270,"phi":176},{"t":271,"phi":178},{"t":272,"phi":180},{"t":273,"phi":182},{"t":274,"phi":179},{"t":275,"phi":181},{"t":276,"phi":182},{"t":277,"phi":180},{"t":278,"phi":183},{"t":279,"phi":182},{"t":281,"phi":159},{"t":282,"phi":158},{"t":283,"phi":157},{"t":284,"phi":156},{"t":285,"phi":155},{"t":286,"phi":156},{"t":287,"phi":154},{"t":288,"phi":152},{"t":289,"phi":153},{"t":290,"phi":151},{"t":291,"phi":150},{"t":292,"phi":152},{"t":293,"phi":179},{"t":10,"phi":45},{"t":11,"phi":44},{"t":12,"phi":45},{"t":13,"phi":44},{"t":14,"phi":45},{"t":15,"phi":46},{"t":16,"phi":45},{"t":17,"phi":44},{"t":18,"phi":46},{"t":19,"phi":45},{"t":20,"phi":44},{"t":21,"phi":45},{"t":22,"phi":44},{"t":23,"phi":45},{"t":27,"phi":38},{"t":29.5,"phi":30},{"t":30,"phi":27},{"t":31,"phi":24},{"t":33,"phi":35},{"t":34,"phi":36},{"t":35,"phi":34},{"t":36,"phi":35},{"t":61,"phi":1},{"t":66,"phi":9},{"t":72,"phi":30},{"t":73,"phi":26},{"t":74,"phi":27},{"t":75,"phi":33},{"t":76,"phi":35},{"t":77,"phi":36},{"t":78,"phi":38},{"t":79,"phi":40},{"t":80,"phi":41},{"t":81,"phi":43},{"t":82,"phi":44},{"t":83,"phi":45},{"t":84,"phi":13},{"t":85,"phi":12},{"t":86,"phi":14},{"t":87,"phi":15},{"t":88,"phi":38},{"t":89,"phi":40},{"t":90,"phi":42},{"t":91,"phi":41},{"t":93,"phi":1},{"t":103,"phi":30},{"t":104,"phi":32},{"t":105,"phi":32},{"t":106,"phi":33},{"t":109,"phi":1},{"t":114,"phi":19},{"t":120,"phi":24},{"t":121,"phi":25},{"t":122,"phi":48},{"t":123,"phi":47},{"t":124,"phi":24},{"t":125,"phi":25},{"t":126,"phi":24},{"t":128,"phi":40},{"t":129,"phi":38},{"t":130,"phi":36},{"t":131,"phi":33},{"t":132,"phi":31},{"t":134,"phi":40},{"t":137,"phi":20},{"t":138,"phi":16},{"t":139,"phi":22},{"t":140,"phi":22},{"t":141,"phi":20},{"t":142,"phi":21},{"t":143,"phi":18},{"t":144,"phi":20},{"t":145,"phi":17},{"t":146,"phi":14},{"t":148,"phi":20},{"t":149,"phi":21},{"t":150,"phi":19},{"t":157,"phi":9},{"t":177,"phi":22},{"t":178,"phi":38},{"t":179,"phi":27},{"t":180,"phi":28},{"t":181,"phi":27},{"t":182,"phi":26},{"t":183,"phi":25},{"t":184,"phi":24},{"t":185,"phi":23},{"t":186,"phi":26},{"t":187,"phi":25},{"t":188,"phi":30},{"t":189,"phi":28},{"t":190,"phi":22},{"t":191,"phi":35},{"t":195,"phi":62},{"t":196,"phi":63},{"t":197,"phi":61},{"t":198,"phi":62},{"t":199,"phi":60},{"t":200,"phi":61},{"t":201,"phi":62},{"t":202,"phi":63},{"t":203,"phi":61},{"t":204,"phi":58},{"t":205,"phi":64},{"t":206,"phi":68},{"t":207,"phi":70},{"t":208,"phi":72},{"t":209,"phi":73},{"t":210,"phi":56},{"t":211,"phi":55},{"t":212,"phi":54},{"t":213,"phi":53},{"t":214,"phi":54},{"t":215,"phi":52},{"t":216,"phi":54},{"t":217,"phi":55},{"t":218,"phi":54},{"t":219,"phi":56},{"t":221,"phi":53},{"t":223,"phi":59},{"t":229,"phi":66},{"t":230,"phi":60},{"t":231,"phi":56},{"t":232,"phi":54},{"t":237,"phi":30},{"t":238,"phi":32},{"t":249,"phi":22},{"t":250,"phi":25},{"t":251,"phi":28},{"t":252,"phi":29},{"t":253,"phi":28},{"t":254,"phi":29},{"t":255,"phi":28}]
},
"spacing": 29,
"vconcat": [
 {
  "bounds": "flush",
  "spacing": 6,
  "title": {"text": "(A)  Emissions from tower", "orient": "bottom", "anchor": "middle", "font": "Lato", "fontSize": 17, "fontWeight": "normal", "color": "#111", "offset": 25},
  "vconcat": [
   {"width": 645, "height": 20, "view": {"stroke": null}, "data": {"name": "leg"},
    "encoding": {"x": {"field": "key", "type": "nominal", "axis": null, "scale": {"type": "point", "padding": 0, "range": [9, 247]}}},
    "layer": [
     {"transform": [{"filter": "datum.key === 'a'"}], "mark": {"type": "square", "size": 256, "color": "#a6f5a6", "opacity": 1}},
     {"transform": [{"filter": "datum.key === 'b'"}], "mark": {"type": "circle", "size": 50, "color": "#ff8000", "opacity": 1, "xOffset": 10}},
     {"transform": [{"filter": "datum.key === 'c'"}], "mark": {"type": "circle", "size": 50, "color": "#2323ff", "opacity": 1, "xOffset": 5}},
     {"transform": [{"filter": "datum.key === 'd'"}], "mark": {"type": "point", "shape": "M-1,0L1,0", "size": 400, "filled": false, "color": "#c8102e", "strokeWidth": 2, "strokeDash": [2, 3], "opacity": 1}},
     {"transform": [{"filter": "datum.key === 'a'"}], "mark": {"type": "text", "text": "L", "align": "left", "baseline": "middle", "dx": 16, "fontSize": 18, "color": "#111"}},
     {"transform": [{"filter": "datum.key === 'a'"}], "mark": {"type": "text", "text": "p,max", "align": "left", "baseline": "middle", "dx": 25, "dy": 6, "fontSize": 11, "color": "#111"}},
     {"transform": [{"filter": "datum.key === 'b'"}], "mark": {"type": "text", "text": "f", "align": "left", "baseline": "middle", "dx": 22, "fontSize": 18, "color": "#111"}},
     {"transform": [{"filter": "datum.key === 'b'"}], "mark": {"type": "text", "text": "L", "align": "left", "baseline": "middle", "dx": 30, "dy": 7, "fontSize": 13, "color": "#111"}},
     {"transform": [{"filter": "datum.key === 'b'"}], "mark": {"type": "text", "text": "p,max", "align": "left", "baseline": "middle", "dx": 39, "dy": 11, "fontSize": 8, "color": "#111"}},
     {"transform": [{"filter": "datum.key === 'c'"}], "mark": {"type": "text", "text": "Φ", "align": "left", "baseline": "middle", "dx": 17, "fontSize": 18, "color": "#111"}},
     {"transform": [{"filter": "datum.key === 'c'"}], "mark": {"type": "text", "text": "L", "align": "left", "baseline": "middle", "dx": 31, "dy": 7, "fontSize": 13, "color": "#111"}},
     {"transform": [{"filter": "datum.key === 'c'"}], "mark": {"type": "text", "text": "p,max", "align": "left", "baseline": "middle", "dx": 40, "dy": 11, "fontSize": 8, "color": "#111"}},
     {"transform": [{"filter": "datum.key === 'd'"}], "mark": {"type": "text", "text": "Φ", "align": "left", "baseline": "middle", "dx": 18, "fontSize": 18, "color": "#111"}},
     {"transform": [{"filter": "datum.key === 'd'"}], "mark": {"type": "text", "text": "nacelle", "align": "left", "baseline": "middle", "dx": 33, "dy": 4, "fontSize": 10.5, "color": "#111"}}
    ]},
   {"width": 645, "height": 240,
    "resolve": {"scale": {"y": "independent"}, "axis": {"x": "independent", "y": "independent"}},
    "layer": [
     {"data": {"name": "bandA"}, "mark": {"type": "area", "color": "#a6f5a6", "opacity": 1},
      "encoding": {
       "x": {"field": "t", "type": "quantitative", "scale": {"domain": [0, 300], "nice": false, "zero": false},
        "axis": {"values": [0,10,20,30,40,50,60,70,80,90,100,110,120,130,140,150,160,170,180,190,200,210,220,230,240,250,260,270,280,290,300], "labelExpr": "datum.value % 50 === 0 ? datum.label : ''", "labelPadding": 4, "grid": true, "gridColor": "#8a8a8a", "gridWidth": 1, "gridOpacity": {"condition": {"test": "datum.value % 50 === 0 && datum.value > 0 && datum.value < 300", "value": 1}, "value": 0}, "zindex": 1, "title": "time [s]", "titlePadding": 8}},
       "y": {"field": "lo", "type": "quantitative", "scale": {"domain": [10, 50], "nice": false, "zero": false},
        "axis": {"values": [10,12,14,16,18,20,22,24,26,28,30,32,34,36,38,40,42,44,46,48,50], "labelExpr": "datum.value % 10 === 0 ? datum.label : ''", "labelPadding": 8, "grid": true, "gridColor": "#8a8a8a", "gridWidth": 1, "gridOpacity": {"condition": {"test": "datum.value % 10 === 0 && datum.value > 10 && datum.value < 50", "value": 1}, "value": 0}, "zindex": 1, "title": "Lₚ,ₘₐₓ [dB]", "titlePadding": 8}},
       "y2": {"field": "hi"}}},
     {"data": {"name": "bpf"}, "transform": [{"fold": ["b1", "b2", "b3", "b4"], "as": ["k", "f"]}],
      "mark": {"type": "line", "color": "#5a5a5a", "strokeWidth": 1.6, "strokeDash": [7, 5], "interpolate": "monotone"},
      "encoding": {
       "x": {"field": "t", "type": "quantitative", "axis": {"orient": "top", "values": [0,10,20,30,40,50,60,70,80,90,100,110,120,130,140,150,160,170,180,190,200,210,220,230,240,250,260,270,280,290,300], "labels": false, "title": null, "grid": false, "zindex": 1}},
       "y": {"field": "f", "type": "quantitative", "scale": {"domain": [0, 4], "nice": false, "zero": false},
        "axis": {"orient": "right", "values": [0,0.2,0.4,0.6,0.8,1,1.2,1.4,1.6,1.8,2,2.2,2.4,2.6,2.8,3,3.2,3.4,3.6,3.8,4], "labelExpr": "abs(datum.value - round(datum.value)) < 0.001 ? toString(round(datum.value)) : ''", "labelPadding": 10, "grid": false, "zindex": 1, "title": "f [Hz]", "titleAngle": 270, "titleBaseline": "top", "titlePadding": 8}},
       "detail": {"field": "k"}}},
     {"data": {"name": "bpflab"}, "mark": {"type": "text", "align": "left", "baseline": "middle", "fontSize": 16, "color": "#6a6a6a"},
      "encoding": {"x": {"field": "t", "type": "quantitative", "axis": null}, "y": {"field": "f", "type": "quantitative", "axis": null, "scale": {"domain": [0, 4], "nice": false, "zero": false}}, "text": {"field": "label"}}},
     {"data": {"name": "orA"}, "mark": {"type": "rule", "color": "#ff8000", "strokeWidth": 4.5, "strokeCap": "round"},
      "encoding": {"x": {"field": "t0", "type": "quantitative", "axis": null}, "x2": {"field": "t1"}, "y": {"field": "f", "type": "quantitative", "axis": null, "scale": {"domain": [0, 4], "nice": false, "zero": false}}}},
     {"data": {"name": "nac"}, "mark": {"type": "line", "color": "#c8102e", "strokeWidth": 2, "strokeDash": [2, 3], "interpolate": "monotone"},
      "encoding": {"x": {"field": "t", "type": "quantitative", "axis": null},
       "y": {"field": "phi", "type": "quantitative", "scale": {"domain": [0, 360], "nice": false, "zero": false},
        "axis": {"orient": "right", "offset": 71, "values": [0,18,36,54,72,90,108,126,144,162,180,198,216,234,252,270,288,306,324,342,360], "labelExpr": "datum.value % 90 === 0 ? datum.label : ''", "labelPadding": 10, "grid": false, "title": "Φ [°]", "titleAngle": 270, "titleBaseline": "top", "titlePadding": 6}}}},
     {"data": {"name": "blA"}, "mark": {"type": "circle", "color": "#2323ff", "size": 20, "opacity": 1, "clip": true},
      "encoding": {"x": {"field": "t", "type": "quantitative", "axis": null}, "y": {"field": "phi", "type": "quantitative", "axis": null, "scale": {"domain": [0, 360], "nice": false, "zero": false}}}}
    ]}
  ]
 },
 {
  "bounds": "flush",
  "spacing": 6,
  "title": {"text": "(B)  Emissions from blades", "orient": "bottom", "anchor": "middle", "font": "Lato", "fontSize": 17, "fontWeight": "normal", "color": "#111", "offset": 25},
  "vconcat": [
   {"width": 645, "height": 20, "view": {"stroke": null}, "data": {"name": "leg"},
    "encoding": {"x": {"field": "key", "type": "nominal", "axis": null, "scale": {"type": "point", "padding": 0, "range": [9, 247]}}},
    "layer": [
     {"transform": [{"filter": "datum.key === 'a'"}], "mark": {"type": "square", "size": 256, "color": "#a6f5a6", "opacity": 1}},
     {"transform": [{"filter": "datum.key === 'b'"}], "mark": {"type": "circle", "size": 50, "color": "#ff8000", "opacity": 1, "xOffset": 10}},
     {"transform": [{"filter": "datum.key === 'c'"}], "mark": {"type": "circle", "size": 50, "color": "#2323ff", "opacity": 1, "xOffset": 5}},
     {"transform": [{"filter": "datum.key === 'd'"}], "mark": {"type": "point", "shape": "M-1,0L1,0", "size": 400, "filled": false, "color": "#c8102e", "strokeWidth": 2, "strokeDash": [2, 3], "opacity": 1}},
     {"transform": [{"filter": "datum.key === 'a'"}], "mark": {"type": "text", "text": "L", "align": "left", "baseline": "middle", "dx": 16, "fontSize": 18, "color": "#111"}},
     {"transform": [{"filter": "datum.key === 'a'"}], "mark": {"type": "text", "text": "p,max", "align": "left", "baseline": "middle", "dx": 25, "dy": 6, "fontSize": 11, "color": "#111"}},
     {"transform": [{"filter": "datum.key === 'b'"}], "mark": {"type": "text", "text": "f", "align": "left", "baseline": "middle", "dx": 22, "fontSize": 18, "color": "#111"}},
     {"transform": [{"filter": "datum.key === 'b'"}], "mark": {"type": "text", "text": "L", "align": "left", "baseline": "middle", "dx": 30, "dy": 7, "fontSize": 13, "color": "#111"}},
     {"transform": [{"filter": "datum.key === 'b'"}], "mark": {"type": "text", "text": "p,max", "align": "left", "baseline": "middle", "dx": 39, "dy": 11, "fontSize": 8, "color": "#111"}},
     {"transform": [{"filter": "datum.key === 'c'"}], "mark": {"type": "text", "text": "Φ", "align": "left", "baseline": "middle", "dx": 17, "fontSize": 18, "color": "#111"}},
     {"transform": [{"filter": "datum.key === 'c'"}], "mark": {"type": "text", "text": "L", "align": "left", "baseline": "middle", "dx": 31, "dy": 7, "fontSize": 13, "color": "#111"}},
     {"transform": [{"filter": "datum.key === 'c'"}], "mark": {"type": "text", "text": "p,max", "align": "left", "baseline": "middle", "dx": 40, "dy": 11, "fontSize": 8, "color": "#111"}},
     {"transform": [{"filter": "datum.key === 'd'"}], "mark": {"type": "text", "text": "Φ", "align": "left", "baseline": "middle", "dx": 18, "fontSize": 18, "color": "#111"}},
     {"transform": [{"filter": "datum.key === 'd'"}], "mark": {"type": "text", "text": "nacelle", "align": "left", "baseline": "middle", "dx": 33, "dy": 4, "fontSize": 10.5, "color": "#111"}}
    ]},
   {"width": 645, "height": 240,
    "resolve": {"scale": {"y": "independent"}, "axis": {"x": "independent", "y": "independent"}},
    "layer": [
     {"data": {"name": "bandB"}, "mark": {"type": "area", "color": "#a6f5a6", "opacity": 1},
      "encoding": {
       "x": {"field": "t", "type": "quantitative", "scale": {"domain": [0, 300], "nice": false, "zero": false},
        "axis": {"values": [0,10,20,30,40,50,60,70,80,90,100,110,120,130,140,150,160,170,180,190,200,210,220,230,240,250,260,270,280,290,300], "labelExpr": "datum.value % 50 === 0 ? datum.label : ''", "labelPadding": 4, "grid": true, "gridColor": "#8a8a8a", "gridWidth": 1, "gridOpacity": {"condition": {"test": "datum.value % 50 === 0 && datum.value > 0 && datum.value < 300", "value": 1}, "value": 0}, "zindex": 1, "title": "time [s]", "titlePadding": 8}},
       "y": {"field": "lo", "type": "quantitative", "scale": {"domain": [10, 50], "nice": false, "zero": false},
        "axis": {"values": [10,12,14,16,18,20,22,24,26,28,30,32,34,36,38,40,42,44,46,48,50], "labelExpr": "datum.value % 10 === 0 ? datum.label : ''", "labelPadding": 8, "grid": true, "gridColor": "#8a8a8a", "gridWidth": 1, "gridOpacity": {"condition": {"test": "datum.value % 10 === 0 && datum.value > 10 && datum.value < 50", "value": 1}, "value": 0}, "zindex": 1, "title": "Lₚ,ₘₐₓ [dB]", "titlePadding": 8}},
       "y2": {"field": "hi"}}},
     {"data": {"name": "bpf"}, "transform": [{"fold": ["b1", "b2", "b3", "b4"], "as": ["k", "f"]}],
      "mark": {"type": "line", "color": "#5a5a5a", "strokeWidth": 1.6, "strokeDash": [7, 5], "interpolate": "monotone"},
      "encoding": {
       "x": {"field": "t", "type": "quantitative", "axis": {"orient": "top", "values": [0,10,20,30,40,50,60,70,80,90,100,110,120,130,140,150,160,170,180,190,200,210,220,230,240,250,260,270,280,290,300], "labels": false, "title": null, "grid": false, "zindex": 1}},
       "y": {"field": "f", "type": "quantitative", "scale": {"domain": [0, 4], "nice": false, "zero": false},
        "axis": {"orient": "right", "values": [0,0.2,0.4,0.6,0.8,1,1.2,1.4,1.6,1.8,2,2.2,2.4,2.6,2.8,3,3.2,3.4,3.6,3.8,4], "labelExpr": "abs(datum.value - round(datum.value)) < 0.001 ? toString(round(datum.value)) : ''", "labelPadding": 10, "grid": false, "zindex": 1, "title": "f [Hz]", "titleAngle": 270, "titleBaseline": "top", "titlePadding": 8}},
       "detail": {"field": "k"}}},
     {"data": {"name": "bpflab"}, "mark": {"type": "text", "align": "left", "baseline": "middle", "fontSize": 16, "color": "#6a6a6a"},
      "encoding": {"x": {"field": "t", "type": "quantitative", "axis": null}, "y": {"field": "f", "type": "quantitative", "axis": null, "scale": {"domain": [0, 4], "nice": false, "zero": false}}, "text": {"field": "label"}}},
     {"data": {"name": "orB"}, "mark": {"type": "rule", "color": "#ff8000", "strokeWidth": 4.5, "strokeCap": "round"},
      "encoding": {"x": {"field": "t0", "type": "quantitative", "axis": null}, "x2": {"field": "t1"}, "y": {"field": "f", "type": "quantitative", "axis": null, "scale": {"domain": [0, 4], "nice": false, "zero": false}}}},
     {"data": {"name": "nac"}, "mark": {"type": "line", "color": "#c8102e", "strokeWidth": 2, "strokeDash": [2, 3], "interpolate": "monotone"},
      "encoding": {"x": {"field": "t", "type": "quantitative", "axis": null},
       "y": {"field": "phi", "type": "quantitative", "scale": {"domain": [0, 360], "nice": false, "zero": false},
        "axis": {"orient": "right", "offset": 71, "values": [0,18,36,54,72,90,108,126,144,162,180,198,216,234,252,270,288,306,324,342,360], "labelExpr": "datum.value % 90 === 0 ? datum.label : ''", "labelPadding": 10, "grid": false, "title": "Φ [°]", "titleAngle": 270, "titleBaseline": "top", "titlePadding": 6}}}},
     {"data": {"name": "blB"}, "mark": {"type": "circle", "color": "#2323ff", "size": 20, "opacity": 1, "clip": true},
      "encoding": {"x": {"field": "t", "type": "quantitative", "axis": null}, "y": {"field": "phi", "type": "quantitative", "axis": null, "scale": {"domain": [0, 360], "nice": false, "zero": false}}}}
    ]}
  ]
 },
 {
  "bounds": "flush",
  "spacing": 6,
  "title": {"text": "(C)  Emissions from blades and tower", "orient": "bottom", "anchor": "middle", "font": "Lato", "fontSize": 17, "fontWeight": "normal", "color": "#111", "offset": 25},
  "vconcat": [
   {"width": 645, "height": 20, "view": {"stroke": null}, "data": {"name": "leg"},
    "encoding": {"x": {"field": "key", "type": "nominal", "axis": null, "scale": {"type": "point", "padding": 0, "range": [9, 247]}}},
    "layer": [
     {"transform": [{"filter": "datum.key === 'a'"}], "mark": {"type": "square", "size": 256, "color": "#a6f5a6", "opacity": 1}},
     {"transform": [{"filter": "datum.key === 'b'"}], "mark": {"type": "circle", "size": 50, "color": "#ff8000", "opacity": 1, "xOffset": 10}},
     {"transform": [{"filter": "datum.key === 'c'"}], "mark": {"type": "circle", "size": 50, "color": "#2323ff", "opacity": 1, "xOffset": 5}},
     {"transform": [{"filter": "datum.key === 'd'"}], "mark": {"type": "point", "shape": "M-1,0L1,0", "size": 400, "filled": false, "color": "#c8102e", "strokeWidth": 2, "strokeDash": [2, 3], "opacity": 1}},
     {"transform": [{"filter": "datum.key === 'a'"}], "mark": {"type": "text", "text": "L", "align": "left", "baseline": "middle", "dx": 16, "fontSize": 18, "color": "#111"}},
     {"transform": [{"filter": "datum.key === 'a'"}], "mark": {"type": "text", "text": "p,max", "align": "left", "baseline": "middle", "dx": 25, "dy": 6, "fontSize": 11, "color": "#111"}},
     {"transform": [{"filter": "datum.key === 'b'"}], "mark": {"type": "text", "text": "f", "align": "left", "baseline": "middle", "dx": 22, "fontSize": 18, "color": "#111"}},
     {"transform": [{"filter": "datum.key === 'b'"}], "mark": {"type": "text", "text": "L", "align": "left", "baseline": "middle", "dx": 30, "dy": 7, "fontSize": 13, "color": "#111"}},
     {"transform": [{"filter": "datum.key === 'b'"}], "mark": {"type": "text", "text": "p,max", "align": "left", "baseline": "middle", "dx": 39, "dy": 11, "fontSize": 8, "color": "#111"}},
     {"transform": [{"filter": "datum.key === 'c'"}], "mark": {"type": "text", "text": "Φ", "align": "left", "baseline": "middle", "dx": 17, "fontSize": 18, "color": "#111"}},
     {"transform": [{"filter": "datum.key === 'c'"}], "mark": {"type": "text", "text": "L", "align": "left", "baseline": "middle", "dx": 31, "dy": 7, "fontSize": 13, "color": "#111"}},
     {"transform": [{"filter": "datum.key === 'c'"}], "mark": {"type": "text", "text": "p,max", "align": "left", "baseline": "middle", "dx": 40, "dy": 11, "fontSize": 8, "color": "#111"}},
     {"transform": [{"filter": "datum.key === 'd'"}], "mark": {"type": "text", "text": "Φ", "align": "left", "baseline": "middle", "dx": 18, "fontSize": 18, "color": "#111"}},
     {"transform": [{"filter": "datum.key === 'd'"}], "mark": {"type": "text", "text": "nacelle", "align": "left", "baseline": "middle", "dx": 33, "dy": 4, "fontSize": 10.5, "color": "#111"}}
    ]},
   {"width": 645, "height": 240,
    "resolve": {"scale": {"y": "independent"}, "axis": {"x": "independent", "y": "independent"}},
    "layer": [
     {"data": {"name": "bandC"}, "mark": {"type": "area", "color": "#a6f5a6", "opacity": 1},
      "encoding": {
       "x": {"field": "t", "type": "quantitative", "scale": {"domain": [0, 300], "nice": false, "zero": false},
        "axis": {"values": [0,10,20,30,40,50,60,70,80,90,100,110,120,130,140,150,160,170,180,190,200,210,220,230,240,250,260,270,280,290,300], "labelExpr": "datum.value % 50 === 0 ? datum.label : ''", "labelPadding": 4, "grid": true, "gridColor": "#8a8a8a", "gridWidth": 1, "gridOpacity": {"condition": {"test": "datum.value % 50 === 0 && datum.value > 0 && datum.value < 300", "value": 1}, "value": 0}, "zindex": 1, "title": "time [s]", "titlePadding": 8}},
       "y": {"field": "lo", "type": "quantitative", "scale": {"domain": [10, 50], "nice": false, "zero": false},
        "axis": {"values": [10,12,14,16,18,20,22,24,26,28,30,32,34,36,38,40,42,44,46,48,50], "labelExpr": "datum.value % 10 === 0 ? datum.label : ''", "labelPadding": 8, "grid": true, "gridColor": "#8a8a8a", "gridWidth": 1, "gridOpacity": {"condition": {"test": "datum.value % 10 === 0 && datum.value > 10 && datum.value < 50", "value": 1}, "value": 0}, "zindex": 1, "title": "Lₚ,ₘₐₓ [dB]", "titlePadding": 8}},
       "y2": {"field": "hi"}}},
     {"data": {"name": "bpf"}, "transform": [{"fold": ["b1", "b2", "b3", "b4"], "as": ["k", "f"]}],
      "mark": {"type": "line", "color": "#5a5a5a", "strokeWidth": 1.6, "strokeDash": [7, 5], "interpolate": "monotone"},
      "encoding": {
       "x": {"field": "t", "type": "quantitative", "axis": {"orient": "top", "values": [0,10,20,30,40,50,60,70,80,90,100,110,120,130,140,150,160,170,180,190,200,210,220,230,240,250,260,270,280,290,300], "labels": false, "title": null, "grid": false, "zindex": 1}},
       "y": {"field": "f", "type": "quantitative", "scale": {"domain": [0, 4], "nice": false, "zero": false},
        "axis": {"orient": "right", "values": [0,0.2,0.4,0.6,0.8,1,1.2,1.4,1.6,1.8,2,2.2,2.4,2.6,2.8,3,3.2,3.4,3.6,3.8,4], "labelExpr": "abs(datum.value - round(datum.value)) < 0.001 ? toString(round(datum.value)) : ''", "labelPadding": 10, "grid": false, "zindex": 1, "title": "f [Hz]", "titleAngle": 270, "titleBaseline": "top", "titlePadding": 8}},
       "detail": {"field": "k"}}},
     {"data": {"name": "bpflab"}, "mark": {"type": "text", "align": "left", "baseline": "middle", "fontSize": 16, "color": "#6a6a6a"},
      "encoding": {"x": {"field": "t", "type": "quantitative", "axis": null}, "y": {"field": "f", "type": "quantitative", "axis": null, "scale": {"domain": [0, 4], "nice": false, "zero": false}}, "text": {"field": "label"}}},
     {"data": {"name": "orC"}, "mark": {"type": "rule", "color": "#ff8000", "strokeWidth": 4.5, "strokeCap": "round"},
      "encoding": {"x": {"field": "t0", "type": "quantitative", "axis": null}, "x2": {"field": "t1"}, "y": {"field": "f", "type": "quantitative", "axis": null, "scale": {"domain": [0, 4], "nice": false, "zero": false}}}},
     {"data": {"name": "nac"}, "mark": {"type": "line", "color": "#c8102e", "strokeWidth": 2, "strokeDash": [2, 3], "interpolate": "monotone"},
      "encoding": {"x": {"field": "t", "type": "quantitative", "axis": null},
       "y": {"field": "phi", "type": "quantitative", "scale": {"domain": [0, 360], "nice": false, "zero": false},
        "axis": {"orient": "right", "offset": 71, "values": [0,18,36,54,72,90,108,126,144,162,180,198,216,234,252,270,288,306,324,342,360], "labelExpr": "datum.value % 90 === 0 ? datum.label : ''", "labelPadding": 10, "grid": false, "title": "Φ [°]", "titleAngle": 270, "titleBaseline": "top", "titlePadding": 6}}}},
     {"data": {"name": "blC"}, "mark": {"type": "circle", "color": "#2323ff", "size": 20, "opacity": 1, "clip": true},
      "encoding": {"x": {"field": "t", "type": "quantitative", "axis": null}, "y": {"field": "phi", "type": "quantitative", "axis": null, "scale": {"domain": [0, 360], "nice": false, "zero": false}}}}
    ]}
  ]
 }
]
}
